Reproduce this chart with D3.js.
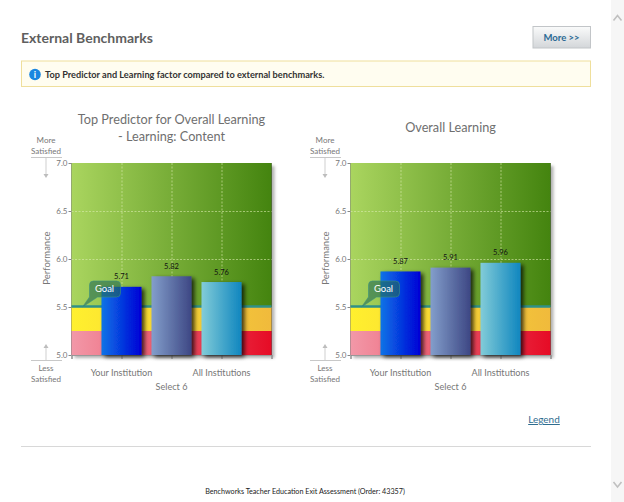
<!DOCTYPE html>
<html><head><meta charset="utf-8">
<script src="https://cdn.jsdelivr.net/npm/d3@7"></script>
<style>
html,body{margin:0;padding:0;background:#fff;overflow:hidden}
svg{display:block}
text{font-family:"Lato","Noto Sans",sans-serif}
</style></head><body>
<svg id="c" width="624" height="502"></svg>
<script>
const slots = ["start","Your Institution","Select 6","All Institutions","end"];
const categories = ["Your Institution","Select 6","All Institutions"];
const chartTitles = [["Top Predictor for Overall Learning","- Learning: Content"],["Overall Learning"]];
const seriesLeft = [5.71,5.82,5.76];
const seriesRight = [5.87,5.91,5.96];
const yTicks = [5.0,5.5,6.0,6.5,7.0];
const goalValue = 5.5;
const lowValue = 5.25;
const barGradients = [["#0b74e6","#0000d6"],["#839ecb","#3d4784"],["#82ccd8","#0f86bf"]];

const svg = d3.select("#c");
const defs = svg.append("defs");
function grad(id,a,b){
  const g=defs.append("linearGradient").attr("id",id).attr("x1","0").attr("x2","1").attr("y1","0").attr("y2","0");
  g.append("stop").attr("offset","0").attr("stop-color",a);
  g.append("stop").attr("offset","1").attr("stop-color",b);
}
grad("gGreen","#aad55f","#44840f");
grad("gYellow","#fff02e","#f0ba3c");
grad("gRed","#f298a8","#e60b25");
barGradients.forEach((c,i)=>grad("bar"+i,c[0],c[1]));
const bg=defs.append("linearGradient").attr("id","btnG").attr("x1","0").attr("x2","0").attr("y1","0").attr("y2","1");
bg.append("stop").attr("offset","0").attr("stop-color","#fafbfb");
bg.append("stop").attr("offset","1").attr("stop-color","#d3d6d9");
const f=defs.append("filter").attr("id","sh").attr("x","-20%").attr("y","-10%").attr("width","150%").attr("height","125%");
f.append("feDropShadow").attr("dx",3).attr("dy",2).attr("stdDeviation",2.2).attr("flood-color","#000").attr("flood-opacity",.75);
const f2=defs.append("filter").attr("id","sh2").attr("x","-5%").attr("y","-5%").attr("width","110%").attr("height","110%");
f2.append("feDropShadow").attr("dx",3).attr("dy",3).attr("stdDeviation",1.6).attr("flood-color","#000").attr("flood-opacity",.3);

// page chrome
svg.append("rect").attr("x",611).attr("y",0).attr("width",13).attr("height",502).attr("fill","#f6f6f6");
svg.append("path").attr("d","M613.5 20.5 L617.5 15.5 L621.5 20.5").attr("fill","none").attr("stroke","#c0c0c0").attr("stroke-width",1.6);
svg.append("path").attr("d","M613.5 482 L617.5 487 L621.5 482").attr("fill","none").attr("stroke","#c0c0c0").attr("stroke-width",1.6);
svg.append("text").attr("x",21).attr("y",43).attr("font-size",14).attr("font-weight",700).attr("fill","#5f5f5f").text("External Benchmarks");
svg.append("rect").attr("x",533).attr("y",26.5).attr("width",57.5).attr("height",21.5).attr("fill","url(#btnG)").attr("stroke","#c2c5c8");
svg.append("text").attr("x",561.5).attr("y",41).attr("text-anchor","middle").attr("font-size",9.5).attr("font-weight",700).attr("fill","#2a6a94").text("More >>");
svg.append("rect").attr("x",21.5).attr("y",61).attr("width",569).attr("height",25.5).attr("fill","#fffdf0").attr("stroke","#efdf9c");
svg.append("circle").attr("cx",35).attr("cy",74.5).attr("r",5.8).attr("fill","#1a86e0");
svg.append("text").attr("x",35).attr("y",78).attr("text-anchor","middle").attr("font-size",9).attr("font-weight",700).attr("fill","#fff").text("i");
svg.append("text").attr("x",45).attr("y",77.5).attr("font-size",9.2).attr("font-weight",700).attr("fill","#333").text("Top Predictor and Learning factor compared to external benchmarks.");
svg.append("text").attr("x",544).attr("y",423).attr("text-anchor","middle").attr("font-size",10).attr("fill","#2f6d8f").attr("text-decoration","underline").text("Legend");
svg.append("line").attr("x1",21).attr("x2",591).attr("y1",446.5).attr("y2",446.5).attr("stroke","#d8d8d8");
svg.append("text").attr("x",305).attr("y",494).attr("text-anchor","middle").attr("font-size",7.2).attr("fill","#222").text("Benchworks Teacher Education Exit Assessment (Order: 43357)");

function chart(left, titleLines, titleY, values){
  const x=d3.scalePoint().domain(slots).range([left,left+200]);
  const y=d3.scaleLinear().domain([5,7]).range([355,163]);
  const g=svg.append("g");
  const tc=x("Select 6");
  titleLines.forEach((t,i)=>g.append("text").attr("x",tc).attr("y",titleY+i*17).attr("text-anchor","middle").attr("font-size",12.7).attr("fill","#6f6f6f").text(t));
  const nx=left-25.5;
  [["More",143],["Satisfied",154]].forEach(d=>g.append("text").attr("x",nx).attr("y",d[1]-.5).attr("text-anchor","middle").attr("font-size",8).attr("fill","#777").text(d[0]));
  [["Less",371],["Satisfied",382]].forEach(d=>g.append("text").attr("x",nx).attr("y",d[1]).attr("text-anchor","middle").attr("font-size",8).attr("fill","#777").text(d[0]));
  g.append("line").attr("x1",nx-15).attr("x2",nx+16).attr("y1",157.5).attr("y2",157.5).attr("stroke","#c8c8c8");
  g.append("line").attr("x1",nx-15).attr("x2",nx+16).attr("y1",360.5).attr("y2",360.5).attr("stroke","#c8c8c8");
  g.append("line").attr("x1",nx).attr("x2",nx).attr("y1",158).attr("y2",175).attr("stroke","#cfcfcf");
  g.append("path").attr("d",`M${nx-2.5} 174 L${nx+2.5} 174 L${nx} 178Z`).attr("fill","#bdbdbd");
  g.append("line").attr("x1",nx).attr("x2",nx).attr("y1",347).attr("y2",360).attr("stroke","#cfcfcf");
  g.append("path").attr("d",`M${nx-2.5} 348 L${nx+2.5} 348 L${nx} 344Z`).attr("fill","#bdbdbd");
  g.append("text").attr("transform",`translate(${left-22},258) rotate(-90)`).attr("text-anchor","middle").attr("font-size",9.5).attr("fill","#777").text("Performance");
  const w=200;
  g.append("rect").attr("x",left).attr("y",y(7)).attr("width",w).attr("height",y(5)-y(7)).attr("fill","#000").attr("filter","url(#sh2)");
  g.append("rect").attr("x",left).attr("y",y(7)).attr("width",w).attr("height",y(goalValue)-y(7)).attr("fill","url(#gGreen)");
  g.append("rect").attr("x",left).attr("y",y(goalValue)).attr("width",w).attr("height",y(lowValue)-y(goalValue)).attr("fill","url(#gYellow)");
  g.append("rect").attr("x",left).attr("y",y(lowValue)).attr("width",w).attr("height",y(5)-y(lowValue)).attr("fill","url(#gRed)");
  yTicks.slice(1,-1).forEach(v=>{ if(v>goalValue) g.append("line").attr("x1",left).attr("x2",left+w).attr("y1",y(v)+.5).attr("y2",y(v)+.5).attr("stroke","#dcecb0").attr("stroke-opacity",.6).attr("stroke-dasharray","2 1.5");});
  categories.forEach(c=>g.append("line").attr("x1",x(c)+.5).attr("x2",x(c)+.5).attr("y1",y(7)).attr("y2",y(goalValue)).attr("stroke","#dcecb0").attr("stroke-opacity",.6).attr("stroke-dasharray","2 1.5"));
  g.append("line").attr("x1",left).attr("x2",left+w).attr("y1",y(goalValue)-.5).attr("y2",y(goalValue)-.5).attr("stroke","#2f9188").attr("stroke-width",2.5);
  const ya=d3.axisLeft(y).tickValues(yTicks).tickFormat(d3.format(".1f")).tickSize(3).tickPadding(1);
  const yg=g.append("g").attr("transform",`translate(${left},0)`).call(ya);
  yg.select(".domain").remove();
  yg.selectAll("line").attr("stroke","#888");
  yg.selectAll("text").attr("font-size",8).attr("fill","#777");
  const xa=d3.axisBottom(x).tickSize(4).tickFormat(()=>"");
  const xg=g.append("g").attr("transform","translate(0,355)").call(xa);
  xg.select(".domain").attr("stroke","#999");
  xg.selectAll("line").attr("stroke","#888");
  categories.forEach((c,i)=>g.append("text").attr("x",x(c)).attr("y",i==1?390:376).attr("text-anchor","middle").attr("font-size",9.1).attr("fill","#777").text(c));
  const bw=40;
  g.selectAll("rect.bar").data(values).join("rect").attr("class","bar")
    .attr("x",(d,i)=>x(categories[i])-bw/2).attr("width",bw)
    .attr("y",d=>y(d)).attr("height",d=>y(5)-y(d))
    .attr("fill",(d,i)=>`url(#bar${i})`).attr("filter","url(#sh)");
  g.selectAll("text.val").data(values).join("text").attr("class","val")
    .attr("x",(d,i)=>x(categories[i])).attr("y",d=>y(d)-7.5)
    .attr("text-anchor","middle").attr("font-size",7.5).attr("fill","#111").text(d3.format(".2f"));
  const gy=y(goalValue), cx=left+17;
  const co=g.append("g");
  co.append("path").attr("d",`M${cx+5} ${gy-26} h23 q4 0 4 4 v8 q0 4 -4 4 h-19 L${cx-6} ${gy} L${cx+1} ${gy-10} v-12 q0 -4 4 -4Z`)
    .attr("fill","#236a55").attr("fill-opacity",.6).attr("stroke","#3a9080").attr("stroke-width",.6);
  co.append("text").attr("x",cx+16).attr("y",gy-15).attr("text-anchor","middle").attr("font-size",9.5).attr("fill","#fff").text("Goal");
}
chart(71.5,chartTitles[0],124,seriesLeft);
chart(350.5,chartTitles[1],132,seriesRight);
</script>
</body></html>
